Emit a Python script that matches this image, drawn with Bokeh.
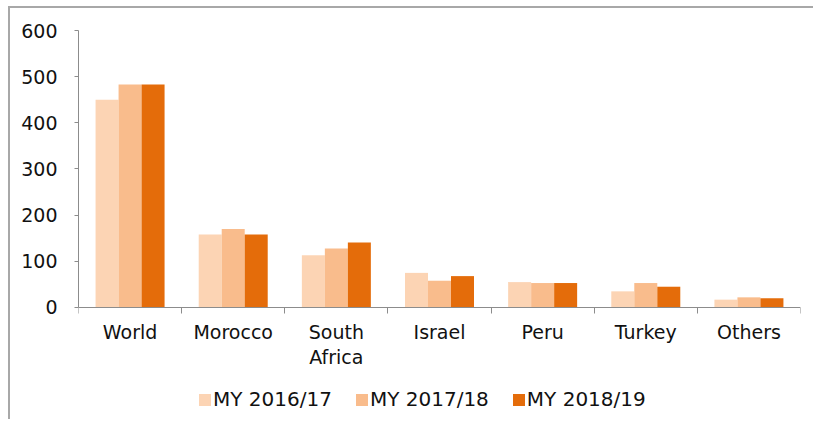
from bokeh.plotting import figure
from bokeh.models import ColumnDataSource, Range1d, FixedTicker, Legend, LegendItem
from bokeh.transform import dodge
from bokeh.embed import file_html
from bokeh.resources import INLINE

categories = ["World", "Morocco", "South\nAfrica", "Israel", "Peru", "Turkey", "Others"]
series_names = ["MY 2016/17", "MY 2017/18", "MY 2018/19"]
my_2016_17 = [450, 158, 113, 75, 55, 35, 17]
my_2017_18 = [483, 170, 128, 58, 53, 53, 22]
my_2018_19 = [483, 158, 141, 68, 53, 45, 20]
y_ticks = [0, 100, 200, 300, 400, 500, 600]

colors = ["#FCD4B4", "#F9BC8C", "#E46C0A"]
FONT = "DejaVu Sans"
TEXT = "#111111"

idx = list(range(len(categories)))
source = ColumnDataSource(dict(x=idx, cat=categories, s0=my_2016_17, s1=my_2017_18, s2=my_2018_19))

# the frame extends below zero so the category labels and legend live inside it
p = figure(frame_width=722, frame_height=389, output_backend="svg", toolbar_location=None,
           x_range=Range1d(-0.5, len(categories) - 0.5), y_range=Range1d(-242.6, 600),
           min_border_left=68, min_border_top=22, min_border_right=13, min_border_bottom=0)
p.styles = {"border-left": "2px solid #a8a8a8", "border-top": "2px solid #a8a8a8",
            "margin-left": "8px", "margin-top": "6px"}
p.outline_line_color = None
p.xgrid.visible = False
p.ygrid.visible = False
p.background_fill_color = "white"
p.border_fill_color = "white"

w = 0.223
renderers = []
for k, (col, off) in enumerate(zip(["s0", "s1", "s2"], [-w, 0, w])):
    r = p.vbar(x=dodge("x", off, range=p.x_range), top=col, width=w, bottom=0,
               source=source, fill_color=colors[k], line_color=None)
    renderers.append(r)

# x axis at y=0: labels at centres, small ticks at group boundaries
xa = p.xaxis[0]
xa.fixed_location = 0
xa.ticker = FixedTicker(ticks=idx, minor_ticks=[i - 0.5 for i in range(len(categories) + 1)])
xa.major_label_overrides = {i: c for i, c in zip(idx, categories)}
xa.major_tick_line_color = None
xa.minor_tick_line_color = "#8c8c8c"
xa.minor_tick_out = 6
xa.minor_tick_in = 0
xa.axis_line_color = "#8c8c8c"
xa.major_label_text_font = FONT
xa.major_label_text_font_size = "19px"
xa.major_label_text_color = TEXT
xa.major_label_text_line_height = 1.1
xa.major_label_standoff = 8

ya = p.yaxis[0]
ya.ticker = FixedTicker(ticks=y_ticks)
ya.bounds = (0, 600)
ya.minor_tick_line_color = None
ya.major_tick_line_color = "#8c8c8c"
ya.major_tick_out = 4
ya.major_tick_in = 0
ya.axis_line_color = "#8c8c8c"
ya.major_label_text_font = FONT
ya.major_label_text_font_size = "19px"
ya.major_label_text_color = TEXT
ya.major_label_standoff = 17

legend = Legend(items=[LegendItem(label=n, renderers=[r]) for n, r in zip(series_names, renderers)],
                orientation="horizontal", location=(119, 8))
legend.glyph_width = 15
legend.glyph_height = 15
legend.label_standoff = 1
legend.spacing = 22
legend.label_text_font = FONT
legend.label_text_font_size = "20px"
legend.label_text_color = TEXT
legend.border_line_color = None
legend.background_fill_alpha = 0
legend.padding = 0
legend.margin = 0
p.add_layout(legend, "center")

open("out.html", "w").write(file_html(p, INLINE))
